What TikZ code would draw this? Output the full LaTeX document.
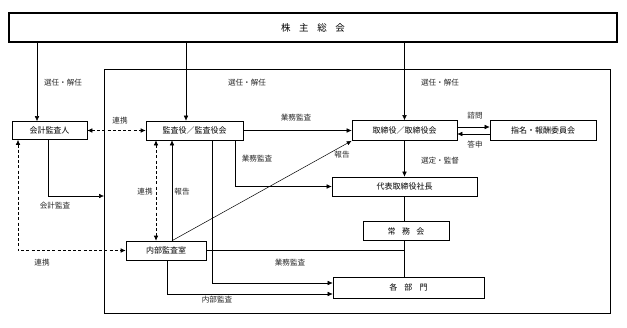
\documentclass[tikz,border=0pt]{standalone}
\usepackage{fontspec}
\setmainfont{Noto Sans CJK JP}
\usetikzlibrary{arrows.meta,positioning}
\tikzset{
  orgbox/.style={draw=black, line width=0.6pt, inner sep=0pt,
        minimum height=19pt, align=center, font=\fontsize{8}{9}\selectfont},
  flow/.style={-{Latex[length=5pt,width=4.5pt]}, line width=0.5pt, draw=black},
  dflow/.style={{Latex[length=5pt,width=4.5pt]}-{Latex[length=5pt,width=4.5pt]},
        line width=0.6pt, draw=black, dash pattern=on 3pt off 2.2pt},
  line/.style={line width=0.5pt, draw=black},
  flab/.style={font=\fontsize{7.6}{8}\selectfont, inner sep=1pt, text=black!85}
}
\begin{document}
\begin{tikzpicture}[x=1pt,y=-1pt]
\useasboundingbox (0,0) rectangle (627,327);

% frame round the company bodies
\draw[line width=0.6pt] (104,69) rectangle (610,313);

\node[orgbox, minimum width=608pt, minimum height=29pt, line width=1.2pt,
      font=\fontsize{9.5}{11}\selectfont] (soukai) at (313,27.5) {株\hspace{0.9em}主\hspace{0.9em}総\hspace{0.9em}会};

\node[orgbox, minimum width=75pt, minimum height=18pt] (kaikei) at (49.5,130.5) {会計監査人};
\node[orgbox, minimum width=97pt] (kansa) at (194.5,130.5) {監査役／監査役会};
\node[orgbox, minimum width=105pt, minimum height=20pt] (torishimari) at (404.5,130.5) {取締役／取締役会};
\node[orgbox, minimum width=106pt, minimum height=20pt] (shimei) at (543,130.5) {指名・報酬委員会};
\node[orgbox, minimum width=145pt] (daihyo) at (404.5,186.5) {代表取締役社長};
\node[orgbox, minimum width=86pt] (joumu) at (406,231) {常\hspace{0.8em}務\hspace{0.8em}会};
\node[orgbox, minimum width=80pt] (naibu) at (166,250.5) {内部監査室};
\node[orgbox, minimum width=151pt, minimum height=21pt] (kakubu) at (408.5,287.5) {各\hspace{0.9em}部\hspace{0.9em}門};

% columns of the connectors
\coordinate (colA) at (37,0);
\coordinate (colB) at (186,0);
\coordinate (spine) at (404.5,0);
\coordinate (kkx) at (48,0);
\coordinate (dsx) at (18,0);
\coordinate (rnx) at (156,0);
\coordinate (hkx) at (172,0);
\coordinate (gmx) at (212,0);
\coordinate (gdx) at (235,0);
\coordinate (nbx) at (167,0);
\coordinate (frameL) at (104,196);

% 選任・解任
\draw[flow] (soukai.south -| colA) -- (kaikei.north -| colA);
\draw[flow] (soukai.south -| colB) -- (kansa.north -| colB);
\draw[flow] (soukai.south -| spine) -- (torishimari.north -| spine);

\draw[dflow] (kaikei.east) -- (kansa.west);
\draw[flow] (kaikei.south -| kkx) |- (frameL);
\draw[dflow] (kaikei.south -| dsx) |- (naibu.west);
\draw[dflow] (kansa.south -| rnx) -- (naibu.north -| rnx);
\draw[flow] (naibu.north -| hkx) -- (kansa.south -| hkx);
\draw[flow] (naibu.north -| hkx) -- (torishimari.south west);

\draw[flow] (kansa.east) -- (torishimari.west);
\draw[flow] (kansa.south -| gdx) |- (daihyo.west);
\draw[flow] (kansa.south -| gmx) |- ([yshift=4.5pt]kakubu.west);
\draw[flow] (naibu.south -| nbx) |- ([yshift=-6.5pt]kakubu.west);
\draw[line] (naibu.east) -- (naibu.east -| spine);

\draw[flow] ([yshift=3.5pt]torishimari.east) -- ([yshift=3.5pt]shimei.west);
\draw[flow] ([yshift=-3.5pt]shimei.west) -- ([yshift=-3.5pt]torishimari.east);
\draw[flow] (torishimari.south -| spine) -- (daihyo.north -| spine);
\draw[line] (daihyo.south -| spine) -- (joumu.north -| spine);
\draw[line] (joumu.south -| spine) -- (kakubu.north -| spine);

% labels
\node[flab] (l1) at (63,83) {選任・解任};
\node[flab] (l2) at (247,83) {選任・解任};
\node[flab] (l3) at (440,83) {選任・解任};
\node[flab] (l4) at (120,121) {連携};
\node[flab] (l5) at (296,118) {業務監査};
\node[flab] (l6) at (257,159) {業務監査};
\node[flab] (l7) at (145,192) {連携};
\node[flab] (l8) at (182,192) {報告};
\node[flab] (l9) at (55,206) {会計監査};
\node[flab] (l10) at (42,263) {連携};
\node[flab] (l11) at (342,155) {報告};
\node[flab] (l12) at (475,116) {諮問};
\node[flab] (l13) at (475,145) {答申};
\node[flab] (l14) at (440,161) {選定・監督};
\node[flab] (l15) at (290,263) {業務監査};
\node[flab] (l16) at (217,300) {内部監査};
\end{tikzpicture}
\end{document}
